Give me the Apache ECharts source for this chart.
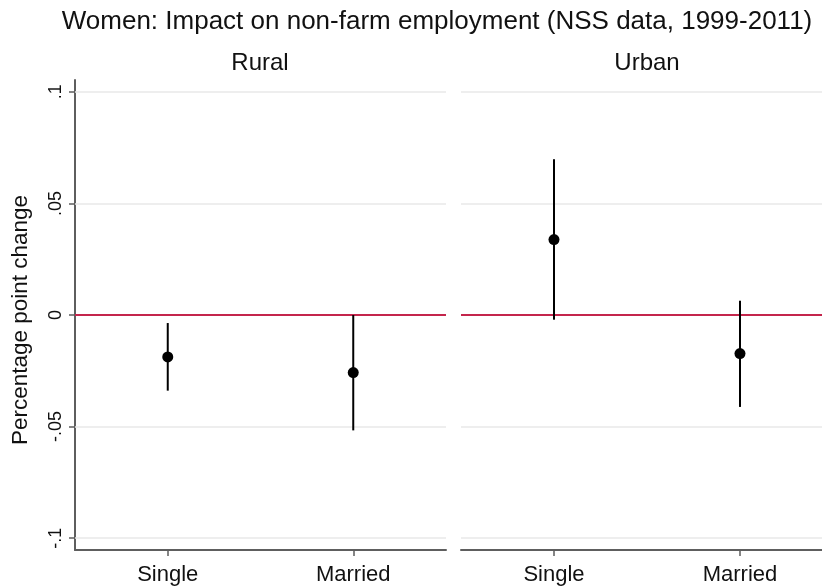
<!DOCTYPE html>
<html>
<head>
<meta charset="utf-8">
<script src="https://cdn.jsdelivr.net/npm/echarts@6/dist/echarts.min.js"></script>
<style>
  html, body { margin: 0; padding: 0; background: #fff; }
  #chart { width: 822px; height: 586px; }
</style>
</head>
<body>
<div id="chart"></div>
<script>
// ---- Data ----
const categories = ['Single', 'Married'];
const panelNames = ['Rural', 'Urban'];
const ruralEst  = [-0.0188, -0.0258];
const ruralLow  = [-0.0339, -0.0517];
const ruralHigh = [-0.0036,  0.0000];
const urbanEst  = [ 0.0338, -0.0173];
const urbanLow  = [-0.0021, -0.0412];
const urbanHigh = [ 0.0698,  0.0064];
const yTicks      = [-0.1, -0.05, 0, 0.05, 0.1];
const yTickLabels = ['-.1', '-.05', '0', '.05', '.1'];
const refValue = 0;

const FONT = 'Liberation Sans, Arial, sans-serif';
const AXIS_COLOR = '#5e5e5e';
const GRID_COLOR = '#e8e8e8';
const REF_COLOR = '#c4254c';
const Y_MIN = -0.1053, Y_MAX = 0.1053;
const catIdx = categories.map((c, i) => i);

function labelFor(v) {
  for (let i = 0; i < yTicks.length; i++) {
    if (Math.abs(yTicks[i] - v) < 1e-9) return yTickLabels[i];
  }
  return '';
}

const chart = echarts.init(document.getElementById('chart'), null, { renderer: 'canvas' });

// x axis: categories placed at 0..n-1 on a value scale (right panel is cut by the image edge)
function xAxisFor(idx, xmax) {
  return {
    type: 'value', gridIndex: idx, min: -0.5, max: xmax,
    axisLine: { show: true, onZero: false, lineStyle: { color: AXIS_COLOR, width: 2 } },
    axisTick: { show: true, length: 6, customValues: catIdx, lineStyle: { color: AXIS_COLOR, width: 1.5 } },
    axisLabel: { customValues: catIdx, fontFamily: FONT, fontSize: 22, color: '#111', margin: 14,
      formatter: v => categories[Math.round(v)] || '' },
    splitLine: { show: false }
  };
}

function yAxisFor(idx, showAxis) {
  return {
    type: 'value', gridIndex: idx, min: Y_MIN, max: Y_MAX,
    name: showAxis ? 'Percentage point change' : '',
    nameLocation: 'middle', nameRotate: 90, nameGap: 43,
    nameTextStyle: { fontFamily: FONT, fontSize: 22.5, color: '#111', padding: [0, 10, 0, 0] },
    axisLine: { show: showAxis, onZero: false, lineStyle: { color: AXIS_COLOR, width: 2 } },
    axisTick: { show: showAxis, length: 6, customValues: yTicks, lineStyle: { color: AXIS_COLOR, width: 1.5 } },
    axisLabel: {
      show: showAxis, customValues: yTicks, rotate: 90, margin: 10,
      fontFamily: FONT, fontSize: 18, color: '#111',
      formatter: labelFor
    },
    splitLine: { show: false }
  };
}

function gridLines() {
  const d = yTicks.filter(v => v !== refValue).map(v => ({ yAxis: v, lineStyle: { color: GRID_COLOR, width: 1.5, type: 'solid' } }));
  d.push({ yAxis: refValue, lineStyle: { color: REF_COLOR, width: 2, type: 'solid' } });
  return {
    silent: true, symbol: 'none', z: 1, animation: false,
    label: { show: false },
    emphasis: { disabled: true },
    data: d
  };
}

function errorSeries(idx, low, high) {
  return {
    type: 'custom', xAxisIndex: idx, yAxisIndex: idx, z: 3, silent: true,
    data: categories.map((c, i) => [i, low[i], high[i]]),
    renderItem: function (params, api) {
      const p1 = api.coord([api.value(0), api.value(1)]);
      const p2 = api.coord([api.value(0), api.value(2)]);
      return {
        type: 'line',
        shape: { x1: p1[0], y1: p1[1], x2: p2[0], y2: p2[1] },
        style: { stroke: '#000', lineWidth: 2 }
      };
    },
    markLine: gridLines()
  };
}

function pointSeries(idx, est) {
  return {
    type: 'scatter', xAxisIndex: idx, yAxisIndex: idx, z: 4, silent: true,
    symbol: 'circle', symbolSize: 11,
    itemStyle: { color: '#000', opacity: 1 },
    data: categories.map((c, i) => [i, est[i]])
  };
}

chart.setOption({
  animation: false,
  backgroundColor: '#fff',
  title: [
    { text: 'Women: Impact on non-farm employment (NSS data, 1999-2011)', left: 437, top: 9, textAlign: 'center', padding: 0,
      textStyle: { fontFamily: FONT, fontSize: 26, fontWeight: 'normal', color: '#111' } },
    { text: panelNames[0], left: 260, top: 51, textAlign: 'center', padding: 0,
      textStyle: { fontFamily: FONT, fontSize: 24, fontWeight: 'normal', color: '#111' } },
    { text: panelNames[1], left: 647, top: 51, textAlign: 'center', padding: 0,
      textStyle: { fontFamily: FONT, fontSize: 24, fontWeight: 'normal', color: '#111' } }
  ],
  grid: [
    { left: 75, top: 80, width: 371, height: 471, containLabel: false },
    { left: 461, top: 80, width: 361, height: 471, containLabel: false }
  ],
  xAxis: [xAxisFor(0, 1.5), xAxisFor(1, 1.441)],
  yAxis: [yAxisFor(0, true), yAxisFor(1, false)],
  series: [
    errorSeries(0, ruralLow, ruralHigh),
    pointSeries(0, ruralEst),
    errorSeries(1, urbanLow, urbanHigh),
    pointSeries(1, urbanEst)
  ]
});
</script>
</body>
</html>
